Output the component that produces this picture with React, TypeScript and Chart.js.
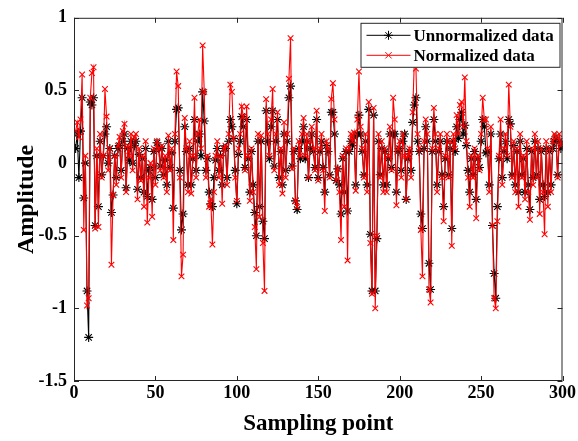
import React, { useEffect, useRef } from "react";
import { Chart, registerables } from "chart.js";

Chart.register(...registerables);

// Sampling points 1..300
const samplingPoints: number[] = Array.from({ length: 300 }, (_, i) => i + 1);

const unnormalized: number[] = [
  0.1, 0.2, -0.1, 0.22, 0.45, -0.24, 0.0, -0.88, -1.2, 0.42,
  0.4, 0.45, -0.43, 0.05, -0.3, 0.15, -0.08, 0.05, 0.2, 0.25,
  0.0, 0.1, -0.34, -0.22, 0.05, -0.1, 0.1, 0.12, -0.05, 0.15,
  0.2, -0.17, 0.1, 0.02, 0.15, 0.0, 0.12, 0.15, -0.18, 0.06,
  -0.1, 0.03, -0.2, 0.1, -0.23, -0.05, -0.03, -0.25, 0.08, -0.1,
  0.14, 0.1, -0.02, 0.1, -0.08, 0.02, -0.15, 0.15, -0.03, 0.07,
  -0.31, 0.15, 0.37, 0.38, -0.05, -0.46, -0.35, 0.25, 0.08, -0.15,
  0.1, -0.15, 0.03, 0.3, -0.05, 0.15, 0.2, 0.05, 0.49, 0.29,
  -0.05, 0.03, -0.2, -0.28, -0.3, -0.1, 0.02, 0.1, -0.05, 0.05,
  -0.15, 0.1, 0.1, -0.1, 0.15, 0.3, 0.25, 0.17, -0.05, -0.28,
  0.06, 0.15, 0.32, 0.25, -0.03, 0.3, 0.03, -0.2, 0.08, -0.15,
  -0.34, -0.5, 0.15, -0.3, 0.15, -0.4, -0.52, 0.36, 0.15, 0.03,
  0.25, 0.36, -0.02, 0.15, 0.3, -0.1, 0.08, -0.15, 0.2, -0.05,
  0.15, 0.45, 0.53, -0.02, 0.08, -0.26, -0.32, 0.1, 0.03, 0.15,
  0.25, 0.03, 0.15, -0.1, 0.1, 0.2, 0.08, -0.03, 0.3, -0.1,
  0.08, 0.15, -0.03, -0.2, 0.12, 0.08, -0.08, 0.35, 0.35, 0.2,
  -0.12, -0.04, -0.15, -0.35, 0.03, -0.2, 0.08, -0.33, 0.08, 0.15,
  0.12, 0.18, -0.15, 0.2, 0.33, 0.2, 0.08, -0.08, 0.15, -0.15,
  0.37, -0.49, -0.88, 0.33, -0.88, -0.52, 0.15, -0.08, 0.1, -0.15,
  0.08, -0.15, 0.03, 0.2, -0.03, 0.2, 0.2, -0.2, 0.08, 0.1,
  -0.05, 0.15, 0.2, -0.25, 0.03, 0.08, -0.05, 0.28, 0.4, 0.45,
  0.15, 0.08, -0.35, -0.45, 0.1, 0.25, 0.15, -0.69, -0.87, 0.08,
  0.3, 0.15, -0.15, 0.08, 0.15, -0.08, -0.3, 0.03, 0.15, -0.08,
  0.1, -0.45, 0.15, 0.08, 0.25, 0.17, 0.3, 0.35, 0.2, 0.26,
  0.12, -0.05, -0.2, 0.03, -0.08, 0.08, -0.25, 0.03, -0.03, 0.15,
  0.3, 0.25, 0.07, 0.08, -0.15, 0.2, -0.43, -0.76, -0.93, -0.3,
  0.03, 0.2, -0.1, 0.08, 0.15, 0.03, 0.3, 0.27, -0.08, 0.12,
  -0.15, 0.08, -0.2, 0.15, -0.08, 0.03, -0.2, 0.1, -0.15, -0.32,
  0.08, -0.1, 0.15, -0.08, 0.1, -0.25, 0.08, -0.15, -0.23, 0.1,
  -0.2, 0.08, -0.15, 0.1, 0.15, 0.18, -0.08, 0.15, 0.1, 0.12,
];

const normalized: number[] = [
  0.22, 0.28, 0.18, 0.3, 0.61, -0.46, 0.05, -0.98, -0.93, 0.45,
  0.62, 0.66, -0.45, 0.1, -0.44, 0.2, -0.1, 0.05, 0.51, 0.32,
  -0.05, 0.1, -0.7, -0.22, 0.05, -0.15, 0.12, 0.18, -0.1, 0.22,
  0.27, -0.2, 0.12, 0.05, 0.2, -0.05, 0.18, 0.2, -0.25, 0.1,
  -0.12, 0.05, -0.3, 0.15, -0.41, -0.1, 0.0, -0.37, 0.1, -0.15,
  0.15, 0.1, -0.05, 0.12, -0.1, 0.05, -0.2, 0.19, -0.05, 0.1,
  -0.53, 0.2, 0.63, 0.53, -0.1, -0.78, -0.63, 0.31, 0.1, -0.2,
  0.15, -0.21, 0.05, 0.45, -0.1, 0.2, 0.3, 0.1, 0.81, 0.49,
  -0.1, 0.05, -0.3, -0.25, -0.56, -0.2, 0.05, 0.15, -0.1, 0.05,
  -0.28, 0.1, 0.12, -0.15, 0.2, 0.54, 0.49, 0.17, -0.1, -0.26,
  0.1, 0.2, 0.39, 0.32, -0.05, 0.39, 0.05, -0.26, 0.1, -0.2,
  -0.44, -0.73, 0.2, -0.37, 0.19, -0.55, -0.88, 0.44, 0.2, 0.05,
  0.3, 0.51, -0.05, 0.2, 0.35, -0.15, 0.1, -0.21, 0.28, -0.1,
  0.2, 0.58, 0.86, -0.04, 0.1, -0.26, -0.3, 0.15, 0.05, 0.2,
  0.31, 0.05, 0.2, -0.1, 0.15, 0.25, 0.1, -0.05, 0.36, -0.12,
  0.1, 0.2, -0.05, -0.33, 0.15, 0.1, -0.1, 0.44, 0.55, 0.3,
  -0.12, -0.04, -0.2, -0.53, 0.05, -0.3, 0.1, -0.67, 0.1, 0.2,
  0.15, 0.21, -0.19, 0.3, 0.63, 0.25, 0.1, -0.1, 0.2, -0.2,
  0.42, -0.55, -0.9, 0.38, -1.0, -0.5, 0.2, -0.1, 0.15, -0.2,
  0.1, -0.2, 0.05, 0.25, -0.05, 0.45, 0.3, -0.29, 0.1, 0.15,
  -0.1, 0.2, 0.05, -0.25, 0.05, 0.1, -0.1, 0.35, 0.7, 0.65,
  0.2, 0.1, -0.46, -0.78, 0.15, 0.3, 0.2, -0.87, -0.96, 0.1,
  0.38, 0.2, -0.2, 0.1, 0.2, -0.1, -0.4, 0.05, 0.2, -0.1,
  0.15, -0.57, 0.2, 0.1, 0.33, 0.2, 0.4, 0.42, 0.25, 0.59,
  0.15, -0.1, -0.3, 0.05, -0.1, 0.1, -0.38, 0.05, -0.05, 0.2,
  0.45, 0.3, 0.3, 0.1, -0.2, 0.25, -0.43, -0.93, -1.0, -0.4,
  0.05, 0.3, -0.15, 0.1, 0.2, 0.05, 0.54, 0.25, -0.1, 0.15,
  -0.2, 0.1, -0.3, 0.2, -0.1, 0.05, -0.25, 0.15, -0.2, -0.39,
  0.1, -0.15, 0.2, -0.1, 0.15, -0.35, 0.1, -0.2, -0.49, 0.15,
  -0.3, 0.1, -0.2, 0.15, 0.2, 0.18, -0.1, 0.2, 0.12, 0.15,
];

const xTicks: number[] = [0, 50, 100, 150, 200, 250, 300];
const yTicks: number[] = [-1.5, -1, -0.5, 0, 0.5, 1];
const seriesNames: string[] = ["Unnormalized data", "Normalized data"];
const xTitle = "Sampling point";
const yTitle = "Amplitude";

const FONT = "'Times New Roman', 'Liberation Serif', serif";
const AXIS_COLOR = "#262626";

function drawMarker(ctx: CanvasRenderingContext2D, kind: string, x: number, y: number, r: number) {
  ctx.beginPath();
  if (kind === "star") {
    ctx.moveTo(x - r, y); ctx.lineTo(x + r, y);
    ctx.moveTo(x, y - r); ctx.lineTo(x, y + r);
    const d = r * 0.7071;
    ctx.moveTo(x - d, y - d); ctx.lineTo(x + d, y + d);
    ctx.moveTo(x - d, y + d); ctx.lineTo(x + d, y - d);
  } else {
    const d = r * 0.7071;
    ctx.moveTo(x - d, y - d); ctx.lineTo(x + d, y + d);
    ctx.moveTo(x - d, y + d); ctx.lineTo(x + d, y - d);
  }
  ctx.stroke();
}

const framePlugin = {
  id: "matlabFrame",
  afterDatasetsDraw(chart: any) {
    const { ctx, chartArea } = chart;
    const { left, right, top, bottom } = chartArea;
    const xs = chart.scales.x;
    const ys = chart.scales.y;
    ctx.save();
    ctx.strokeStyle = AXIS_COLOR;
    ctx.lineWidth = 1;
    ctx.strokeRect(left + 0.5, top + 0.5, right - left - 1, bottom - top - 1);
    const tl = 5;
    ctx.beginPath();
    xTicks.forEach((v) => {
      const px = Math.round(xs.getPixelForValue(v)) + 0.5;
      ctx.moveTo(px, bottom); ctx.lineTo(px, bottom - tl);
      ctx.moveTo(px, top); ctx.lineTo(px, top + tl);
    });
    yTicks.forEach((v) => {
      const py = Math.round(ys.getPixelForValue(v)) + 0.5;
      ctx.moveTo(left, py); ctx.lineTo(left + tl, py);
      ctx.moveTo(right, py); ctx.lineTo(right - tl, py);
    });
    ctx.stroke();

    // Legend
    const lw = 200, lh = 45;
    const lx = right - 2 - lw;
    const ly = top + 5;
    ctx.fillStyle = "#ffffff";
    ctx.fillRect(lx, ly, lw, lh);
    ctx.strokeStyle = AXIS_COLOR;
    ctx.strokeRect(lx + 0.5, ly + 0.5, lw - 1, lh - 1);
    const rows = [
      { name: seriesNames[0], color: "#000000", marker: "star" },
      { name: seriesNames[1], color: "#ff0000", marker: "cross" },
    ];
    rows.forEach((row, i) => {
      const cy = ly + 12.5 + i * 20;
      ctx.strokeStyle = row.color;
      ctx.lineWidth = 1;
      ctx.beginPath();
      ctx.moveTo(lx + 6, cy); ctx.lineTo(lx + 50, cy);
      ctx.stroke();
      drawMarker(ctx, row.marker, lx + 28, cy, 4.5);
      ctx.fillStyle = "#000000";
      ctx.font = `bold 17px ${FONT}`;
      ctx.textBaseline = "middle";
      ctx.textAlign = "left";
      ctx.fillText(row.name, lx + 53, cy + 1);
    });
    ctx.restore();
  },
};

export default function App() {
  const ref = useRef<HTMLCanvasElement | null>(null);
  useEffect(() => {
    if (!ref.current) return;
    const chart = new Chart(ref.current, {
      type: "line",
      data: {
        datasets: [
          {
            label: seriesNames[0],
            data: samplingPoints.map((x, i) => ({ x, y: unnormalized[i] })),
            borderColor: "#000000",
            backgroundColor: "#000000",
            borderWidth: 1.1,
            pointStyle: "star",
            pointRadius: 4.5,
            pointBorderWidth: 1.1,
            pointBorderColor: "#000000",
            tension: 0,
            order: 1,
          },
          {
            label: seriesNames[1],
            data: samplingPoints.map((x, i) => ({ x, y: normalized[i] })),
            borderColor: "#ff0000",
            backgroundColor: "#ff0000",
            borderWidth: 1.1,
            pointStyle: "crossRot",
            pointRadius: 4,
            pointBorderWidth: 1.1,
            pointBorderColor: "#ff0000",
            tension: 0,
            order: 0,
          },
        ],
      },
      options: {
        animation: false,
        responsive: false,
        events: [],
        layout: { padding: { top: 14, right: 14, left: 0, bottom: 0 } },
        plugins: {
          legend: { display: false },
          tooltip: { enabled: false },
        },
        scales: {
          x: {
            type: "linear",
            min: 0,
            max: 300,
            afterFit: (s: any) => { s.height = 60; },
            afterBuildTicks: (s: any) => { s.ticks = xTicks.map((v) => ({ value: v })); },
            ticks: {
              color: "#000",
              font: { family: FONT, size: 18, weight: "bold" },
              padding: 2,
              maxRotation: 0,
              callback: (v: any) => String(v),
            },
            grid: { display: false, drawTicks: false },
            border: { display: false },
            title: {
              display: true,
              text: xTitle,
              color: "#000",
              font: { family: FONT, size: 23, weight: "bold" },
              padding: { top: 0, bottom: 3 },
            },
          },
          y: {
            type: "linear",
            min: -1.5,
            max: 1,
            afterFit: (s: any) => { s.width = 74; },
            afterBuildTicks: (s: any) => { s.ticks = yTicks.map((v) => ({ value: v })); },
            ticks: {
              color: "#000",
              font: { family: FONT, size: 18, weight: "bold" },
              padding: 7,
              callback: (v: any) => String(v),
            },
            grid: { display: false, drawTicks: false },
            border: { display: false },
            title: {
              display: true,
              text: yTitle,
              color: "#000",
              font: { family: FONT, size: 24, weight: "bold" },
              padding: { top: 12, bottom: 0 },
            },
          },
        },
      },
      plugins: [framePlugin],
    } as any);
    return () => chart.destroy();
  }, []);
  return (
    <div style={{ position: "fixed", left: 0, top: 0, width: 578, height: 441, background: "#fff" }}>
      <canvas ref={ref} width={578} height={441} style={{ display: "block", width: 578, height: 441 }} />
    </div>
  );
}
